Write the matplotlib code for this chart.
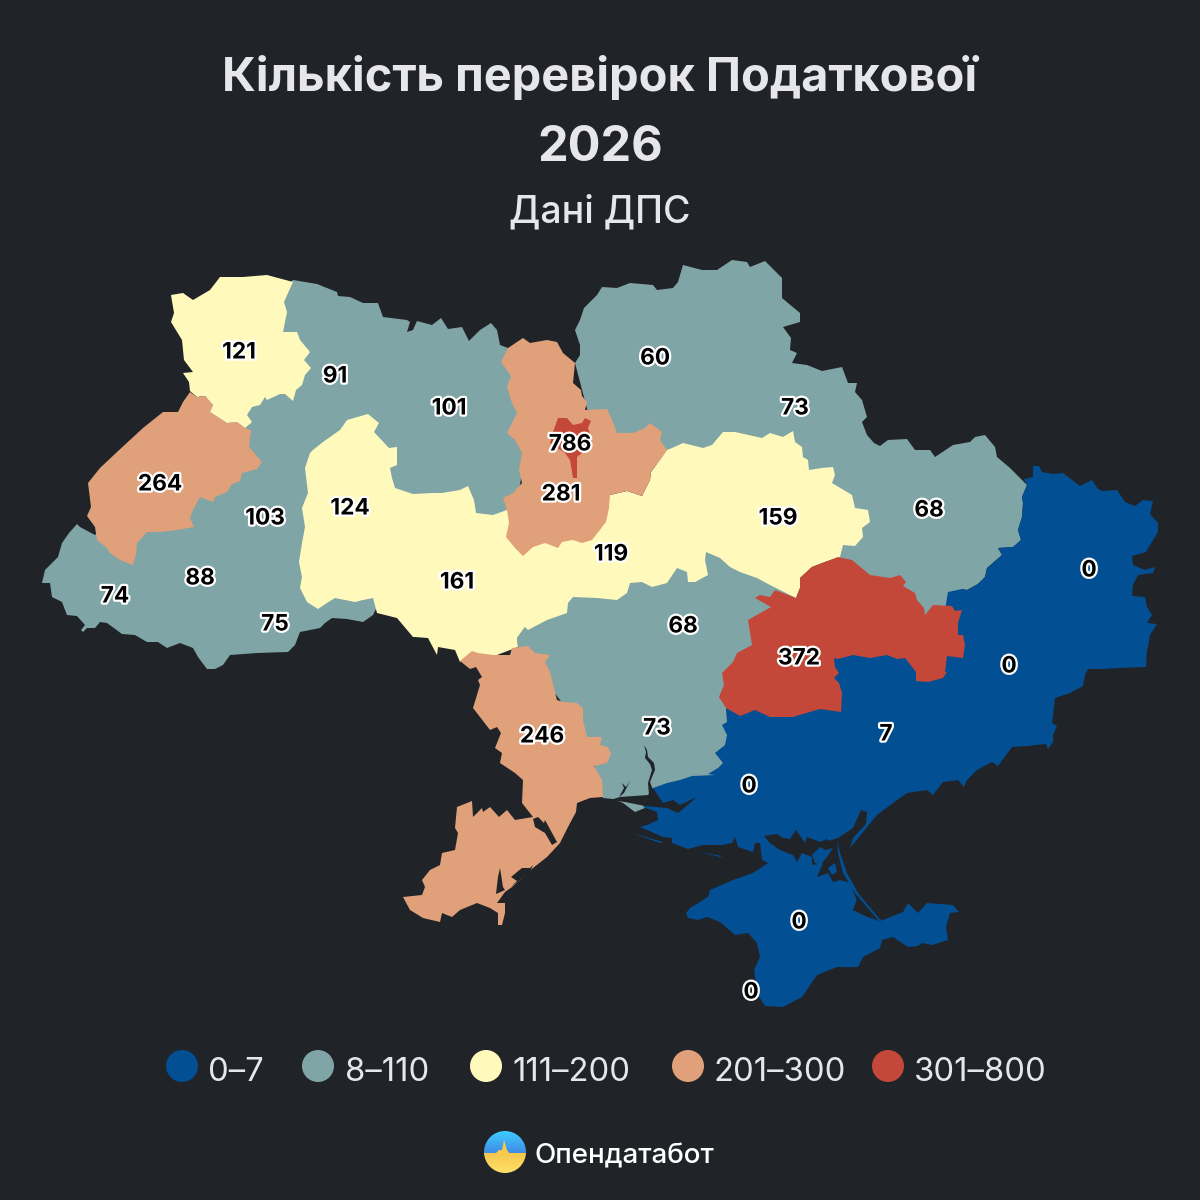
import matplotlib
matplotlib.use('Agg')
import matplotlib.pyplot as plt
import matplotlib.patheffects as pe
import numpy as np
from matplotlib.patches import Circle

BG = '#202328'
BLUE = '#024F93'
TEAL = '#80A5A6'
YELLOW = '#FFFABC'
ORANGE = '#E0A07A'
RED = '#C4483A'
TEXT = '#E6E6EB'

# map outlines, in image pixels
teal_west = [(77,524),(80,527),(95,535),(130,500),(200,420),(230,330),(293,280),(317,284),(337,292),(338,296),(350,297),(363,303),(378,303),(383,317),(407,320),(410,322),(407,332),(413,330),(417,321),(432,325),(441,318),(448,329),(462,327),(469,341),(480,330),(491,323),(497,330),(500,345),(508,348),(525,450),(515,520),(470,540),(400,560),(373,615),(363,622),(347,619),(332,618),(325,623),(320,628),(300,632),(295,645),(288,652),(257,653),(230,655),(223,665),(215,669),(207,669),(198,657),(193,648),(180,643),(167,648),(158,642),(147,642),(135,635),(122,634),(107,623),(100,622),(95,628),(87,628),(83,632),(81,630),(85,625),(77,616),(67,615),(62,602),(52,597),(50,583),(42,583),(45,570),(50,565),(58,557),(62,543),(69,533)]
teal_north = [(575,363),(580,355),(580,345),(575,330),(580,320),(584,308),(597,295),(602,287),(617,288),(630,283),(653,285),(657,290),(673,288),(678,282),(683,265),(702,270),(717,270),(732,260),(747,262),(750,267),(765,261),(782,278),(782,298),(800,313),(800,322),(783,327),(791,338),(790,350),(797,353),(792,363),(807,365),(822,371),(842,367),(848,383),(857,383),(855,392),(862,400),(867,417),(862,422),(867,435),(874,443),(880,446),(888,440),(907,439),(915,450),(930,450),(935,457),(953,445),(970,442),(975,437),(985,435),(995,447),(997,457),(1010,468),(1027,485),(1022,497),(1023,503),(1022,517),(1018,530),(1021,540),(1013,547),(998,548),(1002,555),(987,568),(985,577),(978,584),(967,590),(962,589),(950,605),(925,620),(870,590),(840,575),(830,520),(800,480),(670,470),(620,450),(590,420)]
teal_south = [(517,638),(525,627),(560,600),(650,570),(706,540),(780,575),(800,600),(770,610),(750,650),(740,720),(730,780),(660,793),(648,797),(645,808),(635,812),(623,803),(613,799),(603,798),(590,750),(560,700),(530,660),(518,647)]
yellow_volyn = [(220,277),(243,277),(267,275),(293,282),(288,293),(284,302),(287,312),(283,332),(297,332),(300,340),(310,352),(304,360),(311,368),(305,375),(302,385),(296,390),(293,401),(285,394),(280,394),(267,400),(265,397),(260,405),(252,407),(247,415),(252,422),(245,428),(237,422),(227,423),(210,412),(213,405),(205,396),(197,397),(190,391),(189,382),(183,373),(193,372),(184,360),(182,340),(171,322),(174,313),(171,295),(183,293),(193,300),(210,290)]
yellow_centre = [(368,414),(379,423),(374,432),(389,448),(397,447),(397,465),(390,468),(392,478),(395,488),(413,494),(433,493),(442,493),(460,490),(468,486),(474,500),(476,513),(493,515),(507,510),(540,500),(610,495),(627,491),(642,496),(650,480),(651,472),(660,460),(667,450),(672,448),(683,443),(703,448),(712,445),(723,432),(735,432),(762,438),(770,433),(783,437),(793,431),(795,442),(802,447),(803,457),(808,460),(809,470),(822,468),(833,467),(835,475),(832,483),(852,495),(855,508),(868,510),(870,522),(862,528),(863,537),(855,546),(843,545),(840,557),(825,562),(812,567),(800,578),(800,588),(796,598),(770,585),(757,578),(740,572),(730,567),(720,558),(706,552),(705,560),(708,575),(695,582),(688,582),(687,572),(677,568),(667,583),(652,587),(642,582),(630,583),(627,593),(617,600),(597,598),(573,597),(568,603),(567,613),(547,620),(528,630),(525,627),(517,638),(518,647),(497,655),(482,655),(472,653),(460,662),(455,650),(438,647),(437,655),(428,638),(415,637),(413,637),(397,618),(377,613),(373,598),(363,600),(355,602),(335,598),(327,603),(318,609),(307,602),(300,588),(302,577),(299,562),(302,543),(305,527),(302,508),(308,493),(305,468),(310,453),(313,450),(323,442),(340,430),(347,420)]
orange_lviv = [(190,392),(197,397),(205,396),(213,405),(210,412),(227,423),(237,422),(245,428),(251,430),(249,447),(262,462),(257,469),(242,473),(240,481),(232,484),(227,492),(215,497),(213,502),(200,497),(193,510),(190,518),(194,527),(177,530),(160,532),(147,532),(137,543),(136,555),(133,565),(120,560),(110,553),(107,548),(97,540),(95,527),(87,516),(91,507),(88,483),(100,468),(117,452),(143,428),(163,412),(178,412),(183,402)]
orange_kyiv = [(508,348),(523,338),(530,343),(547,340),(557,342),(563,353),(575,363),(573,383),(581,390),(582,396),(587,402),(585,410),(607,409),(613,422),(617,433),(633,433),(645,428),(650,423),(662,432),(660,440),(667,450),(660,460),(651,472),(650,480),(642,496),(627,491),(610,495),(609,508),(606,522),(592,540),(582,543),(573,540),(562,542),(558,548),(545,543),(533,547),(523,556),(515,548),(506,537),(509,523),(507,510),(503,498),(513,493),(522,483),(519,470),(522,453),(515,440),(507,433),(517,413),(512,403),(507,387),(511,376),(501,362)]
orange_odesa = [(460,661),(472,651),(478,653),(493,655),(510,655),(512,648),(528,646),(535,653),(550,655),(545,662),(550,672),(557,700),(563,702),(577,703),(583,708),(583,720),(587,737),(602,737),(600,745),(608,747),(611,754),(607,763),(594,766),(602,780),(603,797),(590,798),(577,803),(576,812),(568,827),(560,843),(547,857),(533,868),(512,887),(505,892),(497,903),(505,903),(505,913),(502,925),(498,925),(498,913),(490,908),(477,903),(460,910),(452,917),(442,913),(440,922),(423,918),(410,910),(403,897),(422,895),(425,887),(422,880),(430,870),(440,865),(442,853),(455,850),(458,833),(455,828),(457,807),(472,801),(473,817),(482,808),(483,812),(490,807),(499,817),(507,810),(515,820),(533,817),(522,803),(523,780),(515,773),(500,763),(502,753),(495,748),(501,733),(497,727),(490,730),(473,708),(480,685),(478,680),(482,677),(476,667),(470,669)]
blue_mainland = [(948,592),(962,589),(967,590),(978,584),(985,577),(987,568),(1002,555),(998,548),(1013,547),(1021,540),(1018,530),(1022,517),(1023,503),(1022,497),(1027,485),(1024,479),(1033,477),(1033,466),(1039,466),(1042,472),(1053,474),(1063,473),(1080,486),(1092,480),(1098,489),(1103,491),(1117,490),(1125,502),(1135,506),(1143,500),(1153,501),(1150,514),(1158,523),(1158,532),(1147,550),(1146,552),(1132,556),(1133,565),(1145,570),(1155,567),(1153,573),(1138,575),(1133,585),(1132,596),(1145,597),(1147,607),(1152,615),(1147,623),(1157,624),(1150,635),(1148,647),(1147,650),(1146,667),(1120,668),(1103,669),(1088,669),(1085,675),(1083,686),(1070,693),(1055,698),(1053,715),(1052,723),(1057,726),(1053,735),(1053,742),(1048,749),(1046,744),(1027,746),(1012,747),(998,766),(992,762),(977,770),(967,780),(964,787),(958,780),(943,782),(933,795),(927,790),(907,793),(893,803),(877,815),(850,848),(853,838),(866,824),(867,812),(861,810),(853,828),(838,838),(800,850),(775,858),(768,863),(762,860),(760,843),(755,843),(753,852),(738,847),(735,837),(732,843),(722,845),(703,845),(688,849),(672,843),(672,838),(663,837),(640,827),(647,825),(658,820),(657,812),(643,807),(653,788),(667,783),(680,780),(692,776),(715,775),(708,774),(718,768),(723,763),(715,753),(725,745),(727,735),(722,725),(727,722),(726,709),(760,650),(900,625),(945,610)]
blue_crimea = [(768,863),(753,873),(733,880),(710,890),(708,897),(690,908),(686,913),(688,918),(698,920),(707,917),(720,922),(735,935),(748,933),(757,943),(760,957),(754,970),(758,995),(765,1006),(783,1007),(802,997),(817,975),(837,967),(858,967),(863,957),(880,948),(882,940),(893,937),(908,947),(918,946),(922,943),(932,945),(948,940),(946,927),(950,913),(959,912),(953,905),(927,903),(918,913),(908,903),(903,912),(883,920),(868,917),(853,910),(857,900),(850,883),(840,870),(800,845),(775,850)]
red_dnipro = [(796,598),(800,588),(800,578),(812,567),(825,562),(838,557),(852,560),(870,575),(890,578),(900,575),(906,582),(903,586),(915,593),(917,600),(924,608),(925,615),(933,605),(952,606),(955,611),(962,610),(958,623),(958,635),(963,635),(965,645),(963,658),(947,656),(945,672),(947,672),(943,678),(928,682),(916,681),(916,672),(905,658),(897,659),(887,655),(870,658),(853,655),(838,659),(834,658),(835,667),(839,673),(834,678),(839,683),(842,693),(841,712),(820,709),(793,717),(770,717),(755,710),(740,716),(726,708),(719,697),(724,685),(722,673),(733,662),(737,653),(752,645),(748,620),(771,607),(755,598),(760,595),(770,597),(775,590)]
red_kyiv_city = [(558,418),(567,418),(573,425),(582,423),(585,418),(591,421),(588,428),(592,440),(592,448),(582,453),(577,457),(577,478),(573,478),(570,460),(565,453),(550,443),(553,432)]

# water and thin strips on top of the regions
sivash = [(764,836),(777,834),(783,838),(790,839),(796,830),(805,843),(807,837),(820,842),(827,839),(833,844),(838,838),(840,853),(847,873),(858,893),(882,922),(868,917),(853,910),(857,900),(850,883),(840,880),(833,882),(828,873),(817,877),(823,863),(812,865),(812,857),(802,853),(797,862),(793,855),(780,850),(770,843)]
sivash_island_a = [(812,855),(820,847),(825,850),(833,848),(827,857),(820,865),(815,863)]
sivash_island_b = [(828,868),(835,863),(837,872),(832,875)]
arabat_spit = [(837,840),(840,853),(847,873),(858,893),(882,922),(878,920),(855,893),(843,873),(838,853)]
sliver_a = [(632,833),(663,842),(660,843)]
sliver_b = [(700,852),(722,856),(720,857)]
dnipro_estuary = [(653,788),(663,803),(673,800),(680,805),(697,797),(678,813),(667,808),(645,806),(625,802),(610,800),(620,797),(648,795)]
dnipro_river = [(644,745),(647,750),(648,757),(654,763),(655,770),(650,782),(653,790),(649,795),(648,783),(652,770),(650,764),(645,758),(646,752)]
bug_branch = [(622,783),(626,787),(630,781),(624,793),(619,797),(624,788)]
tylihul = [(533,819),(538,817),(544,823),(545,820),(557,842),(552,845),(545,833),(535,827)]
sasyk = [(500,868),(503,887),(505,890),(496,894),(498,877)]
dniester = [(511,877),(522,868),(530,868),(533,865),(530,872),(511,887),(517,881)]

# value labels
label_values = ['121','91','101','264','103','124','88','74','75','161','786','281','119','60','73','159','68','68','372','246','73','0','0','7','0','0','0']
label_x = [239,335,449,160,265,350,200,115,275,457,570,561,611,655,795,778,929,683,799,542,657,1089,1009,886,749,799,751]
label_y = [350,374,406,482,516,506,576,594,622,580,442,492,552,356,406,516,508,624,656,734,726,568,664,732,784,920,990]

# legend
legend_labels = ['0–7','8–110','111–200','201–300','301–800']
legend_colors = [BLUE,TEAL,YELLOW,ORANGE,RED]
legend_dot_x = [182,318,486,688,888]
legend_text_x = [208,345,512,713,914]

plt.rcParams['font.family'] = ['Inter','DejaVu Sans']

fig = plt.figure(figsize=(12,12),dpi=100,facecolor=BG)
ax = fig.add_axes([0,0,1,1])
ax.set_xlim(0,1200)
ax.set_ylim(1200,0)
ax.axis('off')

def draw(outline,color):
    xs,ys = zip(*outline)
    ax.fill(xs,ys,color=color,linewidth=0)

for outline in [teal_west,teal_north,teal_south]:
    draw(outline,TEAL)
for outline in [yellow_volyn,yellow_centre]:
    draw(outline,YELLOW)
for outline in [orange_lviv,orange_kyiv,orange_odesa]:
    draw(outline,ORANGE)
for outline in [blue_mainland,blue_crimea]:
    draw(outline,BLUE)
for outline in [red_dnipro,red_kyiv_city]:
    draw(outline,RED)
for outline in [sivash,dnipro_estuary,dnipro_river,bug_branch,tylihul,sasyk,dniester]:
    draw(outline,BG)
for outline in [sivash_island_a,sivash_island_b,arabat_spit,sliver_a,sliver_b]:
    draw(outline,BLUE)

for value,x,y in zip(label_values,label_x,label_y):
    ax.text(x,y,value,ha='center',va='center_baseline',fontsize=16.3,fontweight='bold',color='black',
            path_effects=[pe.withStroke(linewidth=3.2,foreground='white')])

ax.text(600,73,'Кількість перевірок Податкової',ha='center',va='center_baseline',fontsize=33.8,fontweight='bold',color=TEXT)
ax.text(600,143,'2026',ha='center',va='center_baseline',fontsize=35,fontweight='bold',color=TEXT)
ax.text(600,208,'Дані ДПС',ha='center',va='center_baseline',fontsize=27,fontweight='medium',color=TEXT)

for label,color,dx,tx in zip(legend_labels,legend_colors,legend_dot_x,legend_text_x):
    ax.add_patch(Circle((dx,1066),16,color=color,linewidth=0))
    ax.text(tx,1069,label,ha='left',va='center_baseline',fontsize=23.6,color=TEXT)

# logo
logo_clip = Circle((505,1152),21,transform=ax.transData)
top = np.linspace(0,1,32).reshape(-1,1)
sky = np.dstack([0.25+0.0*top,0.80-0.25*top,1.0-0.1*top])
ground = np.dstack([0.96+0.04*top,0.78+0.1*top,0.30+0.12*top])
im1 = ax.imshow(sky,extent=(484,526,1153,1131),aspect='auto',zorder=3)
im2 = ax.imshow(ground,extent=(484,526,1173,1153),aspect='auto',zorder=3)
im1.set_clip_path(logo_clip)
im2.set_clip_path(logo_clip)
ax.set_xlim(0,1200)
ax.set_ylim(1200,0)
spike = ax.fill([484,496,499,502,504,507,510,526,526,484],[1153,1153,1150,1150,1140,1150,1154,1154,1155,1155],color='#F6C94E',linewidth=0,zorder=4)[0]
spike.set_clip_path(logo_clip)
ax.text(535,1153,'Опендатабот',ha='left',va='center_baseline',fontsize=20,fontweight='medium',color='white')

fig.savefig('out.png',dpi=100,facecolor=BG)
